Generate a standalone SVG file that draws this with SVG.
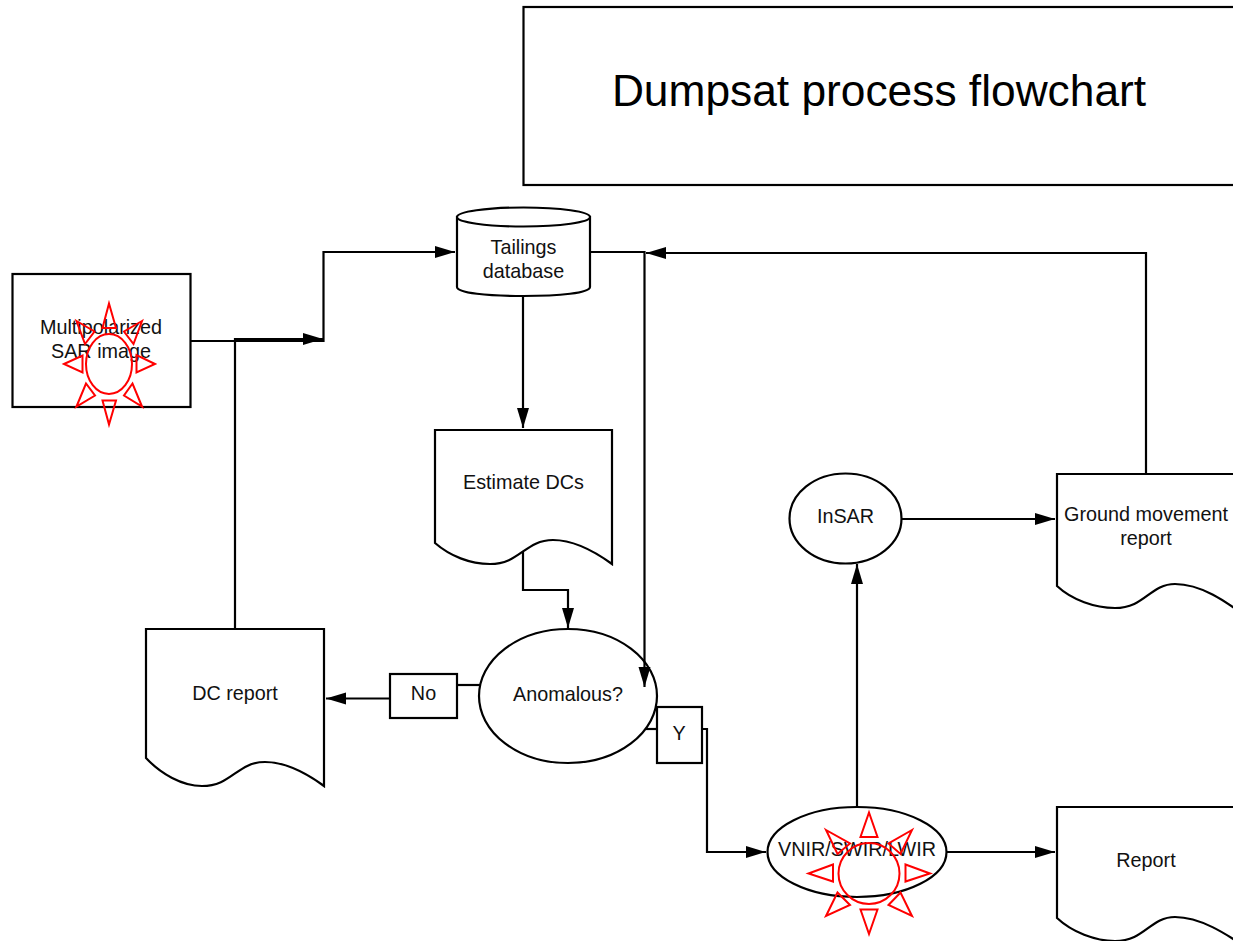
<svg xmlns="http://www.w3.org/2000/svg" width="1233" height="941" viewBox="0 0 1233 941">
<style>
.s{fill:#fff;stroke:#000;stroke-width:2.2}
.c{fill:none;stroke:#000;stroke-width:2.2}
.sun{fill:none;stroke:#f00;stroke-width:2}
text{font-family:"Liberation Sans",Arial,sans-serif;font-size:19.8px;fill:#111;text-anchor:middle}
</style>
<defs>
<marker id="a" markerUnits="userSpaceOnUse" markerWidth="22" markerHeight="14" refX="20" refY="7" orient="auto"><path d="M0 1 L20 7 L0 13 Z" fill="#000"/></marker>
</defs>
<rect width="1233" height="941" fill="#fff"/>
<g id="title"><rect class="s" x="523.500" y="7" width="720" height="178"/><text x="879" y="106" style="font-size:44.3px;fill:#000">Dumpsat process flowchart</text></g>
<g id="sar"><rect class="s" x="12.500" y="274" width="178" height="133"/><text x="101" y="334">Multipolarized</text><text x="101" y="358">SAR image</text></g>
<g id="sun1" class="sun">
<ellipse cx="109" cy="364" rx="23" ry="30"/>
<path d="M109 303.500L102.500 328H116ZM109 424.500L102.500 400.500H116ZM64 364L82.500 355.500V372.500ZM155 364L136.500 355V372.500ZM76.500 321L94.500 331.500L85 344ZM142 321L124 331.500L133.500 344ZM76.500 406.500L86 383.500L95 395.500ZM142 406.500L132.500 383.500L124 395.500Z"/>
</g>
<g id="db">
<path class="s" d="M457 217V287C457 293 488 296 523.500 296S590 293 590 287V217Z"/>
<ellipse class="s" cx="523.500" cy="217" rx="66.500" ry="9.500"/>
<text x="523.500" y="254">Tailings</text><text x="523.500" y="278">database</text>
</g>
<g id="estimate">
<path class="s" d="M435 430H612V564C590 548 572 540 553 540C525 540 520 564 490 564C470 564 450 556 435 543Z"/>
<text x="523.500" y="488.500">Estimate DCs</text>
</g>
<g id="anomalous"><ellipse class="s" cx="568" cy="696" rx="89" ry="67"/><text x="568" y="700.500">Anomalous?</text></g>
<g id="dc">
<path class="s" d="M146 629H324V786C302 770 284 762 265 762C237 762 232 786 202 786C182 786 161 774 146 758Z"/>
<text x="235" y="699.500">DC report</text>
</g>
<g id="no"><rect class="s" x="390" y="674" width="67" height="44"/><text x="423.500" y="699.500">No</text></g>
<g id="y"><rect class="s" x="657" y="707" width="45" height="56"/><text x="679" y="740">Y</text></g>
<g id="insar"><ellipse class="s" cx="845.500" cy="518.500" rx="56" ry="45"/><text x="845.500" y="522.500">InSAR</text></g>
<g id="ground">
<path class="s" d="M1057 474H1250V620C1225 600 1200 584 1175 584C1150 584 1145 608 1115 608C1095 608 1072 600 1057 586Z"/>
<text x="1146" y="520.500">Ground movement</text><text x="1146" y="544.500">report</text>
</g>
<g id="vnir"><ellipse class="s" cx="857" cy="852" rx="89.500" ry="45"/><text x="857" y="855.500">VNIR/SWIR/LWIR</text></g>
<g id="sun2" class="sun">
<circle cx="869" cy="873.500" r="30.500"/>
<path d="M869 812.500L860.500 837H877.500ZM869 934L860.500 909.500H877.500ZM808.500 873.500L833 864.500V881.500ZM930 873.500L905.500 864.500V881.500ZM826 830L850 843.500L837.500 854ZM912 830L888.500 843.500L900.500 854ZM826 916L837.500 892.500L850 905ZM912 916L900.500 892.500L888.500 905Z"/>
</g>
<g id="report">
<path class="s" d="M1057 807H1250V950C1225 933 1200 917 1175 917C1150 917 1145 941 1115 941C1095 941 1072 932 1057 918Z"/>
<text x="1146" y="866.500">Report</text>
</g>
<g id="connectors">
<path class="c" d="M190 341H323.500V252H455" marker-end="url(#a)"/>
<path class="c" d="M235 629V339H323" marker-end="url(#a)"/>
<path class="c" d="M590 252H644.500V687" marker-end="url(#a)"/>
<path class="c" d="M1146 474V253H646" marker-end="url(#a)"/>
<path class="c" d="M523 296V428" marker-end="url(#a)"/>
<path class="c" d="M523 552V590H568V628" marker-end="url(#a)"/>
<path class="c" d="M480 685H457"/>
<path class="c" d="M390 698.500H326" marker-end="url(#a)"/>
<path class="c" d="M646 729H657"/>
<path class="c" d="M702 729H707V852H766" marker-end="url(#a)"/>
<path class="c" d="M857 807V564" marker-end="url(#a)"/>
<path class="c" d="M946 852H1055" marker-end="url(#a)"/>
<path class="c" d="M902 519H1055" marker-end="url(#a)"/>
</g>
</svg>
